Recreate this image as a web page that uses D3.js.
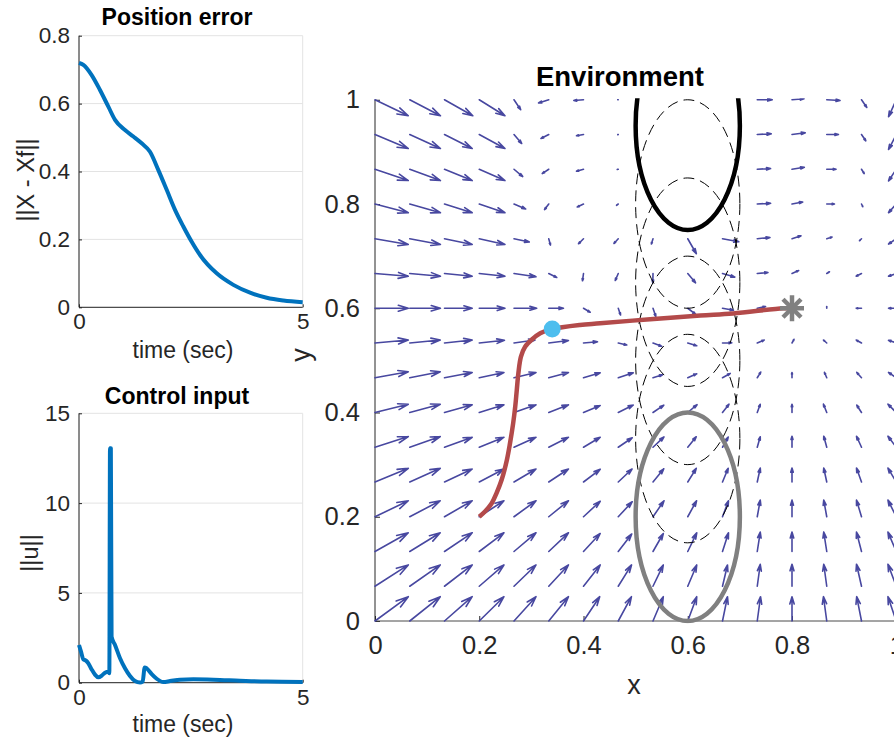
<!DOCTYPE html>
<html>
<head>
<meta charset="utf-8">
<script src="https://cdn.jsdelivr.net/npm/d3@7"></script>
<style>
  html, body { margin: 0; padding: 0; background: #ffffff; }
  svg { display: block; }
  text { font-family: "Liberation Sans", Arial, Helvetica, sans-serif; }
</style>
</head>
<body>
<svg id="chart" width="894" height="746"></svg>
<script>
// ---------------- DATA ----------------
// Position error panel
const posTime = [0, 0.097, 0.283, 0.469, 0.656, 0.805, 1.028, 1.215, 1.401, 1.587, 1.774, 1.960, 2.146, 2.332, 2.519, 2.705, 3.078, 3.450, 3.823, 4.195, 4.568, 5.0];
const posErr  = [0.720, 0.714, 0.684, 0.640, 0.591, 0.552, 0.522, 0.503, 0.483, 0.458, 0.404, 0.346, 0.287, 0.238, 0.193, 0.154, 0.100, 0.066, 0.043, 0.028, 0.020, 0.015];
const posYTicks = [0, 0.2, 0.4, 0.6, 0.8];

// Control input panel
const ctrlTime = [0, 0.045, 0.097, 0.156, 0.209, 0.283, 0.358, 0.432, 0.507, 0.581, 0.656, 0.678, 0.693, 0.712, 0.728, 0.805, 0.917, 1.028, 1.140, 1.252, 1.364, 1.423, 1.468, 1.513, 1.625, 1.736, 1.885, 2.034, 2.258, 2.556, 3.003, 3.599, 4.195, 5.0];
const ctrlNorm = [2.10, 1.73, 1.30, 1.23, 1.08, 0.74, 0.45, 0.30, 0.39, 0.56, 0.61, 0.52, 13.05, 13.05, 2.56, 2.10, 1.36, 0.80, 0.37, 0.09, 0.01, 0.06, 0.85, 0.80, 0.48, 0.22, 0.04, 0.09, 0.17, 0.19, 0.17, 0.11, 0.06, 0.04];
const ctrlYTicks = [0, 5, 10, 15];
const timeTicks = [0, 5];

// Environment panel
const envTicks = [0, 0.2, 0.4, 0.6, 0.8, 1];
const gridX = [0, 1/15, 2/15, 3/15, 4/15, 5/15, 6/15, 7/15, 8/15, 9/15, 10/15, 11/15, 12/15, 13/15, 14/15, 1];
const gridY = [0, 1/15, 2/15, 3/15, 4/15, 5/15, 6/15, 7/15, 8/15, 9/15, 10/15, 11/15, 12/15, 13/15, 14/15, 1];
// quiver components, rows = gridY (bottom to top), columns = gridX
const quiverU = [
  [33.3, 30.5, 27.7, 24.7, 22.0, 19.7, 16.2, 13.2, 10.3, 9.0, 5.0, 3.3, 0, -3.3, -4.8, -8.3],
  [33.3, 30.5, 27.7, 24.7, 22.0, 19.7, 16.7, 13.3, 10.3, 9.0, 5.0, 3.0, 0, -3.0, -5.0, -8.3],
  [33.3, 30.5, 27.7, 24.7, 22.0, 19.7, 16.7, 13.5, 10.3, 9.0, 6.0, 3.0, 0, -3.0, -5.0, -8.3],
  [33.3, 30.5, 27.7, 24.7, 22.0, 19.7, 16.7, 14.0, 11.0, 8.8, 6.0, 3.0, 0, -3.0, -5.0, -8.3],
  [33.3, 30.5, 27.7, 24.7, 22.0, 19.7, 16.7, 13.8, 10.8, 8.5, 5.7, 3.0, 0, -3.0, -5.0, -8.3],
  [33.3, 30.5, 27.7, 24.7, 22.0, 19.7, 16.7, 14.0, 11.0, 8.5, 5.7, 3.0, 0, -3.0, -5.0, -8.3],
  [33.3, 30.5, 27.7, 24.7, 22.0, 19.7, 16.7, 15.0, 10.8, 9.3, 6.5, 3.0, 0, -3.3, -4.7, -8.3],
  [33.3, 30.5, 27.7, 24.7, 22.0, 19.7, 16.7, 15.0, 9.5, 9.0, 7.7, 3.5, 0, -2.3, -4.7, -7.7],
  [33.3, 30.5, 27.7, 25.2, 21.0, 19.7, 14.0, 8.5, 8.7, 9.0, 9.3, 7.0, 2.0, -3.3, -5.3, -7.7],
  [33.3, 30.7, 27.7, 25.7, 22.7, 14.7, 6.7, 2.3, 2.8, 8.0, 11.0, 8.3, 4.0, 0, -5.3, -7.7],
  [33.3, 30.7, 27.7, 25.7, 22.0, 8.0, -1.0, -3.0, -0.2, 7.8, 12.3, 10.7, 6.7, 2.7, -5.3, -7.7],
  [33.3, 30.7, 27.7, 25.7, 15.3, 1.7, -5.0, -4.3, -1.6, 8.6, 16.3, 12.7, 9.0, 5.3, -2.0, -7.7],
  [33.3, 30.7, 27.7, 25.7, 11.7, -4.2, -6.3, -1.7, 0, 0, 0, 13.3, 10.7, 7.7, 1.3, -7.7],
  [33.3, 30.7, 27.7, 25.7, 8.7, -6.5, -7.0, -1.0, 0, 0, 0, 13.3, 12.3, 9.3, 2.7, -7.7],
  [33.3, 30.7, 27.7, 25.7, 7.7, -7.8, -7.0, -0.5, 0, 0, 0, 14.0, 13.3, 11.7, 4.3, -7.7],
  [33.3, 30.7, 28.3, 25.7, 6.7, -10.2, -9.7, -0.5, 0, 0, 0, 15.0, 12.0, 13.3, 5.3, -7.7]
];
const quiverV = [
  [24.3, 24.3, 24.3, 24.3, 24.3, 24.3, 24.3, 24.3, 24.3, 24.3, 24.3, 24.3, 24.3, 24.3, 24.3, 24.3],
  [21.3, 21.3, 21.3, 21.3, 21.3, 21.3, 21.3, 21.3, 21.3, 21.3, 21.3, 22.0, 22.0, 22.0, 22.0, 22.0],
  [18.7, 18.7, 18.7, 18.7, 18.7, 18.7, 18.0, 17.5, 18.0, 18.7, 18.7, 19.4, 19.4, 19.4, 19.4, 19.4],
  [16.0, 16.0, 16.0, 16.0, 16.0, 16.0, 15.5, 15.0, 16.0, 16.0, 16.0, 16.6, 16.6, 16.6, 16.6, 16.6],
  [13.7, 13.7, 13.0, 13.0, 13.0, 13.0, 12.7, 13.0, 13.2, 13.7, 13.7, 13.9, 13.9, 13.9, 13.9, 13.9],
  [10.7, 10.7, 10.0, 10.0, 10.0, 10.0, 10.0, 9.5, 10.3, 10.5, 10.2, 10.5, 11.0, 11.0, 11.0, 11.0],
  [8.3, 8.3, 7.7, 7.7, 7.7, 7.7, 7.0, 7.5, 7.3, 7.8, 8.3, 8.3, 8.3, 8.3, 7.3, 8.3],
  [6.0, 6.0, 5.3, 5.3, 5.3, 5.3, 5.0, 5.0, 3.0, 4.0, 4.3, 5.7, 5.3, 5.3, 5.3, 5.3],
  [3.0, 3.0, 3.0, 2.7, 3.0, 2.5, 1.3, -2.0, -3.3, -2.8, 0.2, 3.0, 3.7, 3.0, 3.0, 2.7],
  [0, 0, 0, 0, 0, 0, -4.0, -6.7, -8.3, -6.2, -2.0, 1.7, 3.0, 1.7, 0, 0],
  [-2.7, -2.7, -2.7, -2.7, -3.3, -4.0, -7.3, -7.0, -9.3, -9.3, -3.6, 1.0, 3.0, 1.7, -2.7, -2.7],
  [-5.7, -5.7, -5.7, -5.7, -3.3, -6.3, -5.0, -4.7, -5.3, -15.0, -3.0, 1.3, 3.0, 1.7, -2.0, -5.3],
  [-8.7, -8.7, -8.7, -8.7, -5.0, -5.6, -3.0, -1.3, 0, 0, 0, 0.7, 2.0, 0, -2.7, -8.7],
  [-11.3, -11.3, -11.3, -11.3, -7.3, -4.3, -2.0, -0.3, 0, 0, 0, 0.7, 2.0, 0, -4.3, -11.7],
  [-14.0, -14.0, -14.0, -14.0, -9.0, -4.0, -1.3, -0.2, 0, 0, 0, 0.7, 1.7, 0, -6.3, -15.0],
  [-16.0, -16.0, -16.0, -16.0, -10.0, -3.2, -0.8, 0, 0, 0, 0, 0, 1.0, -0.7, -7.7, -17.0]
];
// robot trajectory
const pathX = [0.200, 0.211, 0.224, 0.233, 0.243, 0.253, 0.259, 0.265, 0.269, 0.272, 0.275, 0.280, 0.288, 0.301, 0.317, 0.339, 0.393, 0.432, 0.528, 0.624, 0.687, 0.783, 0.800];
const pathY = [0.200, 0.210, 0.226, 0.245, 0.271, 0.309, 0.341, 0.379, 0.411, 0.443, 0.475, 0.507, 0.526, 0.540, 0.552, 0.560, 0.568, 0.571, 0.579, 0.586, 0.590, 0.600, 0.600];
const currentPos = [0.34, 0.56];
const goalPos = [0.8, 0.6];
// moving obstacle (ellipse), centre y positions
const obstacleX = 0.6;
const obstacleRx = 0.1;
const obstacleRy = 0.2;
const obstacleStartY = 0.2;
const obstacleGhostY = [0.35, 0.5, 0.65, 0.8];
const obstacleEndY = 0.95;

// ---------------- DRAWING ----------------
const svg = d3.select("#chart");
const TXT = "#262626";
const GRID = "#e3e3e3";
const LINE_BLUE = "#0072bd";

function styleAxis(g, size) {
  g.select(".domain").remove();
  g.selectAll(".tick line").attr("stroke", TXT).attr("stroke-width", 1);
  g.selectAll(".tick text").attr("fill", TXT).style("font-size", size + "px")
    .style("font-family", '"Liberation Sans", Arial, Helvetica, sans-serif');
}

function timePanel(cfg) {
  const x = d3.scaleLinear().domain([0, 5]).range([79, 302.7]);
  const y = d3.scaleLinear().domain(cfg.yDomain).range([cfg.bottom, cfg.top]);
  const g = svg.append("g");
  // grid
  g.append("g").selectAll("line.h").data(cfg.yTicks).join("line")
    .attr("x1", x(0)).attr("x2", x(5)).attr("y1", d => y(d)).attr("y2", d => y(d))
    .attr("stroke", GRID).attr("stroke-width", 1);
  g.append("g").selectAll("line.v").data(timeTicks).join("line")
    .attr("x1", d => x(d)).attr("x2", d => x(d)).attr("y1", y(cfg.yDomain[0])).attr("y2", y(cfg.yDomain[1]))
    .attr("stroke", GRID).attr("stroke-width", 1);
  // axes
  const ax = g.append("g").attr("transform", `translate(0,${cfg.bottom})`)
    .call(d3.axisBottom(x).tickValues(timeTicks).tickFormat(d3.format("d")).tickSizeInner(-3).tickSizeOuter(0).tickPadding(6));
  styleAxis(ax, 22.5);
  const ay = g.append("g").attr("transform", `translate(${x(0)},0)`)
    .call(d3.axisLeft(y).tickValues(cfg.yTicks).tickFormat(cfg.fmt).tickSizeInner(-3).tickSizeOuter(0).tickPadding(9));
  styleAxis(ay, 22.5);
  g.append("line").attr("x1", x(0)).attr("x2", x(0)).attr("y1", cfg.bottom).attr("y2", cfg.top).attr("stroke", TXT);
  g.append("line").attr("x1", x(0)).attr("x2", x(5)).attr("y1", cfg.bottom).attr("y2", cfg.bottom).attr("stroke", TXT);
  // data line
  const pts = cfg.t.map((t, i) => [t, cfg.v[i]]);
  g.append("path").datum(pts)
    .attr("d", d3.line().x(d => x(d[0])).y(d => y(d[1])).curve(d3.curveMonotoneX))
    .attr("fill", "none").attr("stroke", LINE_BLUE).attr("stroke-width", 4)
    .attr("stroke-linejoin", "round");
  // labels
  g.append("text").attr("x", 177).attr("y", cfg.titleY).attr("text-anchor", "middle")
    .style("font-size", "23px").style("font-weight", "bold").attr("fill", "#000").text(cfg.title);
  g.append("text").attr("x", 183).attr("y", cfg.xlabY).attr("text-anchor", "middle")
    .style("font-size", "23px").attr("fill", TXT).text("time (sec)");
  g.append("text").attr("transform", `translate(${cfg.ylabX},${cfg.ylabY}) rotate(-90)`)
    .attr("text-anchor", "middle").style("font-size", "23.5px").attr("fill", TXT).text(cfg.ylabel);
}

timePanel({
  top: 35.7, bottom: 307.3, yDomain: [0, 0.8], yTicks: posYTicks, fmt: d => d === 0 ? "0" : d3.format(".1f")(d),
  t: posTime, v: posErr, title: "Position error", titleY: 25, xlabY: 358,
  ylabel: "||X - Xf||", ylabX: 34, ylabY: 180
});
timePanel({
  top: 413.3, bottom: 682.7, yDomain: [0, 15], yTicks: ctrlYTicks, fmt: d3.format("d"),
  t: ctrlTime, v: ctrlNorm, title: "Control input", titleY: 404, xlabY: 732,
  ylabel: "||u||", ylabX: 38, ylabY: 553
});

// ---- Environment ----
const ex = d3.scaleLinear().domain([0, 1]).range([375, 896.25]);
const ey = d3.scaleLinear().domain([0, 1]).range([621, 99.75]);
const env = svg.append("g");

svg.append("defs").append("clipPath").attr("id", "envClip").append("rect")
  .attr("x", ex(0) - 2).attr("y", ey(1) - 1.5)
  .attr("width", ex(1) - ex(0) + 4).attr("height", ey(0) - ey(1) + 4);

// axes
const envFmt = d => d === 0 || d === 1 ? d3.format("d")(d) : d3.format(".1f")(d);
const exAx = env.append("g").attr("transform", `translate(0,${ey(0)})`)
  .call(d3.axisBottom(ex).tickValues(envTicks).tickFormat(envFmt)
    .tickSizeInner(-5).tickSizeOuter(0).tickPadding(15));
styleAxis(exAx, 25.5);
const eyAx = env.append("g").attr("transform", `translate(${ex(0)},0)`)
  .call(d3.axisLeft(ey).tickValues(envTicks).tickFormat(envFmt)
    .tickSizeInner(-5).tickSizeOuter(0).tickPadding(15));
styleAxis(eyAx, 25.5);
env.append("line").attr("x1", ex(0)).attr("x2", ex(0)).attr("y1", ey(0)).attr("y2", ey(1)).attr("stroke", TXT);
env.append("line").attr("x1", ex(0)).attr("x2", ex(1)).attr("y1", ey(0)).attr("y2", ey(0)).attr("stroke", "#4a4a4a");

env.append("text").attr("x", 620).attr("y", 86).attr("text-anchor", "middle")
  .style("font-size", "27.5px").style("font-weight", "bold").attr("fill", "#000").text("Environment");
env.append("text").attr("x", 634).attr("y", 694).attr("text-anchor", "middle")
  .style("font-size", "27px").attr("fill", TXT).text("x");
env.append("text").attr("transform", `translate(310,355) rotate(-90)`).attr("text-anchor", "middle")
  .style("font-size", "27px").attr("fill", TXT).text("y");

const plot = env.append("g").attr("clip-path", "url(#envClip)");

// quiver
const quiverScale = 1 / 521.25;
const arrowData = [];
gridY.forEach((yv, k) => gridX.forEach((xv, j) => {
  const u = quiverU[k][j], v = quiverV[k][j];
  if (Math.abs(u) < 0.05 && Math.abs(v) < 0.05) return;
  arrowData.push({ xv, yv, u, v });
}));
const alpha = 0.3, beta = 0.3;
plot.append("g").selectAll("path").data(arrowData).join("path")
  .attr("d", d => {
    const x0 = ex(d.xv), y0 = ey(d.yv);
    const x1 = ex(d.xv + d.u * quiverScale), y1 = ey(d.yv + d.v * quiverScale);
    const dx = x1 - x0, dy = y1 - y0;
    const h1x = x1 - alpha * (dx + beta * dy), h1y = y1 - alpha * (dy - beta * dx);
    const h2x = x1 - alpha * (dx - beta * dy), h2y = y1 - alpha * (dy + beta * dx);
    return `M${x0},${y0}L${x1},${y1}M${h1x},${h1y}L${x1},${y1}L${h2x},${h2y}`;
  })
  .attr("fill", "none").attr("stroke", "#4848a0").attr("stroke-width", 1.6)
  .attr("stroke-linecap", "round").attr("stroke-linejoin", "round");

// obstacles
const rxPx = ex(obstacleRx) - ex(0);
const ryPx = ey(0) - ey(obstacleRy);
plot.append("g").selectAll("ellipse").data(obstacleGhostY).join("ellipse")
  .attr("cx", ex(obstacleX)).attr("cy", d => ey(d)).attr("rx", rxPx).attr("ry", ryPx)
  .attr("fill", "none").attr("stroke", "#000").attr("stroke-width", 1).attr("stroke-dasharray", "11,6");
plot.append("ellipse").attr("cx", ex(obstacleX)).attr("cy", ey(obstacleEndY)).attr("rx", rxPx).attr("ry", ryPx)
  .attr("fill", "none").attr("stroke", "#000").attr("stroke-width", 4.5);
plot.append("ellipse").attr("cx", ex(obstacleX)).attr("cy", ey(obstacleStartY)).attr("rx", rxPx).attr("ry", ryPx)
  .attr("fill", "none").attr("stroke", "#808080").attr("stroke-width", 4.5);

// trajectory
const trajPts = pathX.map((x, i) => [x, pathY[i]]);
plot.append("path").datum(trajPts)
  .attr("d", d3.line().x(d => ex(d[0])).y(d => ey(d[1])).curve(d3.curveCatmullRom))
  .attr("fill", "none").attr("stroke", "#b34a4a").attr("stroke-width", 4.5)
  .attr("stroke-linejoin", "round");

// current position
plot.append("circle").attr("cx", ex(currentPos[0])).attr("cy", ey(currentPos[1])).attr("r", 8.5)
  .attr("fill", "#4dbeee");

// goal star
const gx = ex(goalPos[0]), gy = ey(goalPos[1]);
const star = plot.append("g").attr("stroke", "#808080").attr("stroke-width", 4.5).attr("stroke-linecap", "butt");
[[12, 0], [0, 13], [9, 9], [9, -9]].forEach(([a, b]) => {
  star.append("line").attr("x1", gx - a).attr("y1", gy - b).attr("x2", gx + a).attr("y2", gy + b);
});
</script>
</body>
</html>
